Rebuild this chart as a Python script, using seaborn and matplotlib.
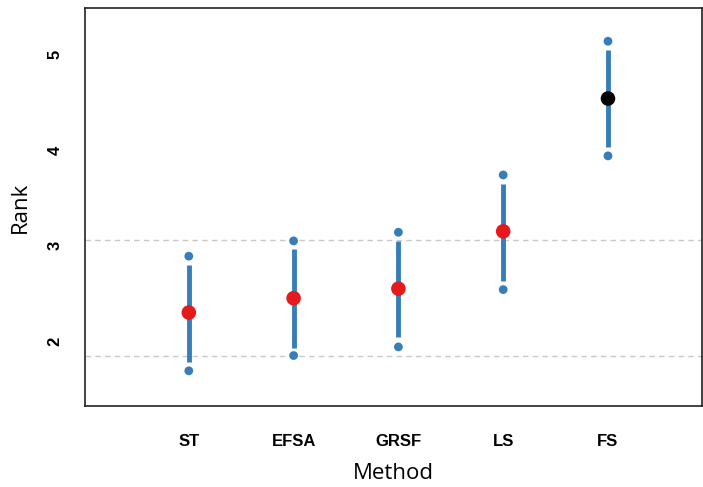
import numpy as np
import pandas as pd
import matplotlib
matplotlib.use('Agg')
import matplotlib.pyplot as plt
import seaborn as sns

# ── DATA ───────────────────────────────────────────────
methods = ['ST', 'EFSA', 'GRSF', 'LS', 'FS']
mean_rank = [2.30, 2.45, 2.55, 3.15, 4.54]
line_lo = [1.78, 1.93, 2.04, 2.63, 4.03]
line_hi = [2.80, 2.97, 3.05, 3.65, 5.05]
dot_lo = [1.69, 1.85, 1.94, 2.54, 3.94]
dot_hi = [2.89, 3.05, 3.14, 3.74, 5.14]
mean_colors = ['#E41A1C', '#E41A1C', '#E41A1C', '#E41A1C', '#000000']
ref_lines = [1.85, 3.06]

df = pd.DataFrame({'Method': methods, 'pos': np.arange(1, 6),
                   'mean': mean_rank, 'lo': dot_lo, 'hi': dot_hi})

blue = '#377EB8'

sns.set_style('white')
plt.rcParams['text.color'] = 'black'
plt.rcParams['axes.labelcolor'] = 'black'
plt.rcParams['xtick.color'] = 'black'
plt.rcParams['ytick.color'] = 'black'

fig = plt.figure(figsize=(7.03, 4.87), dpi=100)
ax = fig.add_axes([0.121, 0.166, 0.878, 0.818])

for y in ref_lines:
    ax.axhline(y, color='#c8c8c8', linestyle=(0, (4, 3)), linewidth=1, zorder=1)

ax.vlines(df['pos'], line_lo, line_hi, color=blue, linewidth=3.5, zorder=2)
sns.scatterplot(x='pos', y='lo', data=df, color=blue, s=40, edgecolor='none', ax=ax, zorder=3)
sns.scatterplot(x='pos', y='hi', data=df, color=blue, s=40, edgecolor='none', ax=ax, zorder=3)
sns.scatterplot(x='pos', y='mean', data=df, hue='Method', palette=mean_colors,
                s=110, edgecolor='none', legend=False, ax=ax, zorder=4)

ax.set_xlim(0.01, 5.9)
ax.set_ylim(1.32, 5.49)
ax.set_xticks(df['pos'])
ax.set_xticklabels(methods, fontsize=12, fontweight='bold', family='Liberation Sans')
ax.set_yticks([2, 3, 4, 5])
ax.set_yticklabels(['2', '3', '4', '5'], fontsize=12, fontweight='bold',
                   family='Liberation Sans', rotation=90, va='center')
ax.tick_params(axis='both', length=7, width=1, color='#555555')
ax.tick_params(axis='x', pad=13)
ax.tick_params(axis='y', pad=9)
ax.set_xlabel('Method', fontsize=16, family='Open Sans', labelpad=10)
ax.set_ylabel('Rank', fontsize=16, family='Open Sans', labelpad=12)
for s in ax.spines.values():
    s.set_color('#222222')
    s.set_linewidth(1.2)

plt.savefig('out.png', dpi=100)
